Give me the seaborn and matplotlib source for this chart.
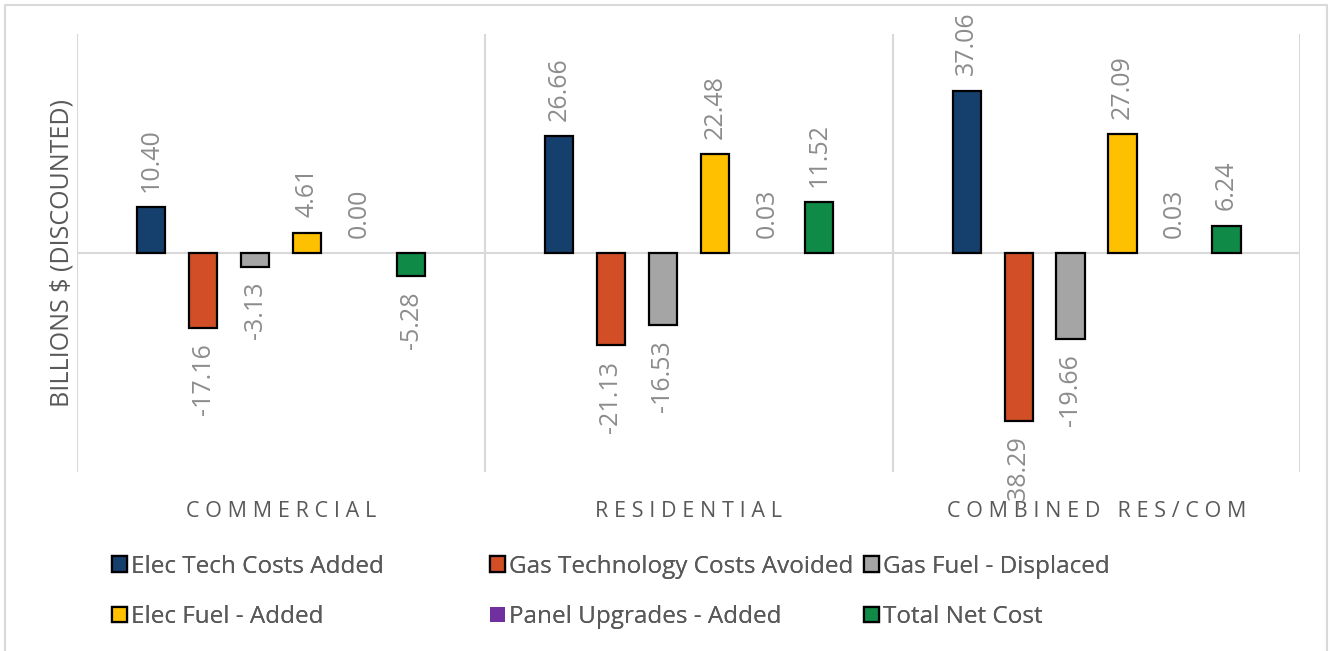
import matplotlib
matplotlib.use("Agg")
import matplotlib.pyplot as plt
from matplotlib.patches import Patch
from matplotlib.lines import Line2D
import pandas as pd
import seaborn as sns

# data
categories = ["COMMERCIAL", "RESIDENTIAL", "COMBINED RES/COM"]
series = ["Elec Tech Costs Added", "Gas Technology Costs Avoided", "Gas Fuel - Displaced",
          "Elec Fuel - Added", "Panel Upgrades - Added", "Total Net Cost"]
elec_tech = [10.40, 26.66, 37.06]
gas_tech = [-17.16, -21.13, -38.29]
gas_fuel = [-3.13, -16.53, -19.66]
elec_fuel = [4.61, 22.48, 27.09]
panel = [0.00, 0.03, 0.03]
net_cost = [-5.28, 11.52, 6.24]
colors = ["#153F6C", "#D14E27", "#A5A5A5", "#FFC000", "#7030A0", "#0F8A47"]

GRID = "#D9D9D9"
TEXT = "#595959"
LABEL = "#8C8C8C"


def build_frame():
    rows = []
    for name, vals in zip(series, [elec_tech, gas_tech, gas_fuel, elec_fuel, panel, net_cost]):
        for cat, v in zip(categories, vals):
            rows.append({"category": cat, "series": name, "value": v})
    return pd.DataFrame(rows)


def main():
    sns.set_theme(style="white")
    plt.rcParams["font.family"] = ["Open Sans", "DejaVu Sans"]

    df = build_frame()
    fig = plt.figure(figsize=(13.31, 6.51), dpi=100)
    ax = fig.add_axes([0.058, 0.275, 0.919, 0.673])

    sns.barplot(data=df, x="category", y="value", hue="series", order=categories,
                hue_order=series, palette=colors, saturation=1, width=0.765, gap=0.46,
                edgecolor="black", linewidth=1.6, ax=ax, legend=False, zorder=2)

    # purple series has no outline in the original
    for bar in ax.containers[4]:
        bar.set_linewidth(0)

    for cont in ax.containers:
        ax.bar_label(cont, fmt="%.2f", rotation=90, padding=11,
                     fontsize=18, color=LABEL)

    ax.set_ylim(-50, 50)
    ax.set_xlim(-0.5, len(categories) - 0.5)
    ax.axhline(0, color=GRID, lw=1.5, zorder=1)
    for b in range(len(categories) + 1):
        ax.axvline(b - 0.5, color=GRID, lw=1.5, zorder=1)

    for s in ax.spines.values():
        s.set_visible(False)
    ax.set_yticks([])
    ax.set_xticks(range(len(categories)))
    ax.set_xticklabels(["\u2009\u200a".join(c) for c in categories], fontsize=15.5, color=TEXT)
    ax.tick_params(axis="x", length=0, pad=21)
    ax.set_xlabel("")
    ax.set_ylabel("BILLIONS $ (DISCOUNTED)", fontsize=18, color=TEXT, labelpad=2)

    # legend: three columns, two rows
    handles = []
    for name, col in zip(series, colors):
        ec = "none" if name.startswith("Panel") else "black"
        handles.append(Patch(facecolor=col, edgecolor=ec, linewidth=1.6, label=name))
    col_x = [0.0845, 0.3685, 0.6495]
    for i, x in enumerate(col_x):
        leg = fig.legend(handles=[handles[i], handles[i + 3]], loc="upper left",
                         bbox_to_anchor=(x, 0.148), frameon=False, fontsize=17.5,
                         handlelength=0.6, handleheight=0.6, handletextpad=0.15,
                         labelspacing=1.08, borderpad=0, borderaxespad=0)
        for t in leg.get_texts():
            t.set_color(TEXT)
        fig.add_artist(leg)

    # outer chart border (left, top, right)
    fig.add_artist(Line2D([0.004, 0.004, 0.997, 0.997], [0.0, 0.992, 0.992, 0.0],
                          transform=fig.transFigure, color=GRID, lw=1.5))

    fig.savefig("out.png", dpi=100, facecolor="white")
    plt.close(fig)


if __name__ == "__main__":
    main()
